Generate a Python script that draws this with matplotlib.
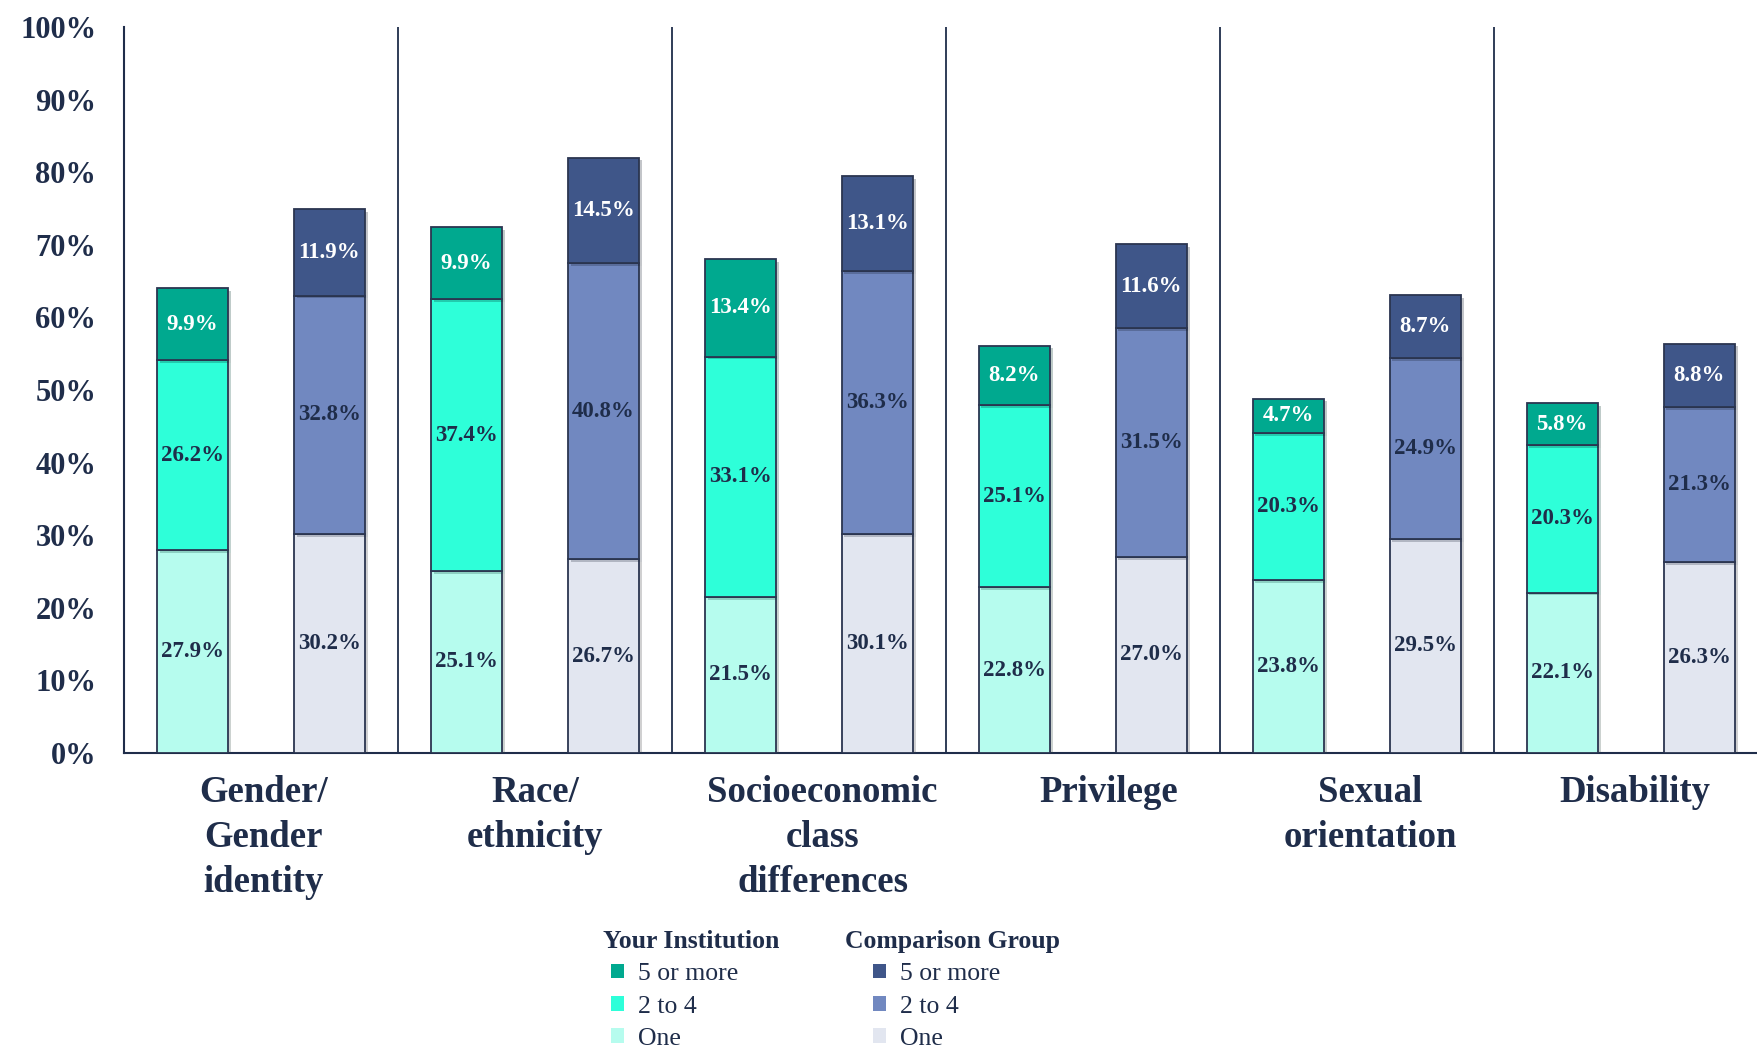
import matplotlib.pyplot as plt
import matplotlib.patheffects as pe
from matplotlib.patches import Patch
import numpy as np

plt.rcParams['font.family'] = ['Liberation Serif', 'DejaVu Serif']

categories = ['Gender/\nGender\nidentity', 'Race/\nethnicity', 'Socioeconomic\nclass\ndifferences',
              'Privilege', 'Sexual\norientation', 'Disability']

# Your Institution
inst_one = [27.9, 25.1, 21.5, 22.8, 23.8, 22.1]
inst_2to4 = [26.2, 37.4, 33.1, 25.1, 20.3, 20.3]
inst_5plus = [9.9, 9.9, 13.4, 8.2, 4.7, 5.8]

# Comparison Group
comp_one = [30.2, 26.7, 30.1, 27.0, 29.5, 26.3]
comp_2to4 = [32.8, 40.8, 36.3, 31.5, 24.9, 21.3]
comp_5plus = [11.9, 14.5, 13.1, 11.6, 8.7, 8.8]

yticks = [0, 10, 20, 30, 40, 50, 60, 70, 80, 90, 100]

navy = '#1f2d4a'
inst_cols = ['#b6fcee', '#2effd9', '#00a98f']
comp_cols = ['#e2e6f0', '#7188c0', '#3f5689']
edge = '#2b3550'

fig = plt.figure(figsize=(17.58, 10.47), dpi=100)
ax = fig.add_axes([0.0705, 0.2808, 0.935, 0.6934])

x = np.arange(len(categories))
w = 0.26
shadow = [pe.SimplePatchShadow(offset=(2, -2), alpha=0.25), pe.Normal()]


def stack(xpos, series, cols):
    bottom = np.zeros(len(xpos))
    for k, (vals, c) in enumerate(zip(series, cols)):
        vals = np.array(vals)
        bars = ax.bar(xpos, vals, w, bottom=bottom, color=c, edgecolor=edge, linewidth=1.3, zorder=3)
        for b in bars:
            b.set_path_effects(shadow)
        tc = 'white' if k == 2 else navy
        for xi, v, b0 in zip(xpos, vals, bottom):
            ax.text(xi, b0 + v / 2, f'{v:.1f}%', ha='center', va='center', fontsize=16.5,
                    fontweight='bold', color=tc, zorder=4)
        bottom = bottom + vals


stack(x - 0.25, [inst_one, inst_2to4, inst_5plus], inst_cols)
stack(x + 0.25, [comp_one, comp_2to4, comp_5plus], comp_cols)

for sep in x[:-1] + 0.5:
    ax.plot([sep, sep], [0, 100], color=navy, lw=1.3, zorder=2)

ax.set_xlim(-0.5, len(categories) - 0.5)
ax.set_ylim(0, 100)
ax.set_yticks(yticks)
ax.set_yticklabels([f'{t}%' for t in yticks], fontsize=22, fontweight='bold', color=navy)
ax.set_xticks(x)
ax.set_xticklabels([])
ax.tick_params(axis='y', length=0, pad=20)
ax.tick_params(axis='x', length=0)

# category labels sit a little off-centre in the original
label_shift = [0.01, 0.0, 0.05, 0.095, 0.05, 0.015]
for xi, cat, dx in zip(x, categories, label_shift):
    ax.annotate(cat, (xi + dx, 0), xycoords=('data', 'axes fraction'), xytext=(0, -16),
                textcoords='offset points', ha='center', va='top', fontsize=26.5,
                fontweight='bold', color=navy, linespacing=1.37)

for s in ['top', 'right']:
    ax.spines[s].set_visible(False)
for s in ['left', 'bottom']:
    ax.spines[s].set_color(navy)
    ax.spines[s].set_linewidth(1.5)

labels = ['5 or more', '2 to 4', 'One']
h1 = [Patch(facecolor=c) for c in inst_cols[::-1]]
h2 = [Patch(facecolor=c) for c in comp_cols[::-1]]
for hs, title, tx, lx in [(h1, 'Your Institution', 0.343, 0.3476), (h2, 'Comparison Group', 0.4808, 0.4968)]:
    fig.text(tx, 0.1006, title, ha='left', va='center', fontsize=18.5, fontweight='bold', color=navy)
    leg = fig.legend(hs, labels, loc='upper left', bbox_to_anchor=(lx, 0.080),
                     frameon=False, fontsize=18.5, handlelength=0.5, handleheight=0.5,
                     handletextpad=0.55, labelspacing=0.4, borderaxespad=0, borderpad=0)
    for t in leg.get_texts():
        t.set_color(navy)

fig.savefig('out.png', dpi=100)
